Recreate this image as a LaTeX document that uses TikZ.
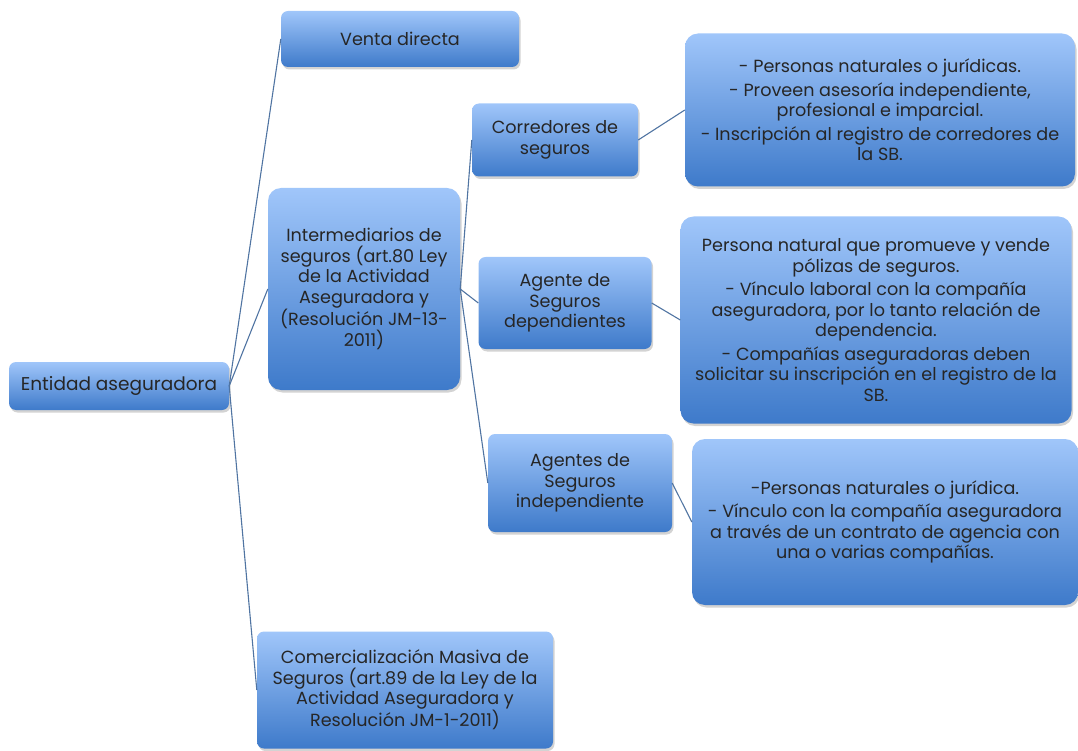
\documentclass[tikz,border=0pt]{standalone}
\usepackage{fontspec}
\setmainfont{Poppins}
\usetikzlibrary{positioning,shadows}
\definecolor{cajaclara}{RGB}{160,198,250}
\definecolor{cajaoscura}{RGB}{62,122,202}
\definecolor{linea}{RGB}{80,116,162}

\begin{document}
\begin{tikzpicture}[x=1pt,y=-1pt,
  caja/.style={rectangle,rounded corners=7pt,top color=cajaclara,bottom color=cajaoscura,
    drop shadow={shadow xshift=1.5pt,shadow yshift=-2.5pt,opacity=0.35},
    align=center,inner sep=2pt,font=\fontsize{17.6}{20.5}\selectfont,text=black!85},
  grande/.style={caja,rounded corners=13pt},
  enlace/.style={draw=linea,line width=1.1pt}]
  \useasboundingbox (0,0) rectangle (1078,751);

  % nivel 1
  \node[caja,minimum width=220pt,minimum height=48pt,font=\fontsize{18.5}{21}\selectfont] (entidad) at (119,386) {Entidad aseguradora};

  % nivel 2
  \node[caja,minimum width=238pt,minimum height=56pt] (venta) at (400,39) {Venta directa};
  \node[grande,minimum width=192pt,minimum height=202pt] (interm) at (364,289)
    {Intermediarios de\\seguros (art.80 Ley\\de la Actividad\\Aseguradora y\\(Resolución JM-13-\\2011)};
  \node[caja,minimum width=296pt,minimum height=117pt] (masiva) at (405,690)
    {Comercialización Masiva de\\Seguros (art.89 de la Ley de la\\Actividad Aseguradora y\\Resolución JM-1-2011)};

  % nivel 3
  \node[caja,minimum width=166pt,minimum height=73pt] (corredores) at (555,140) {Corredores de\\seguros};
  \node[caja,minimum width=173pt,minimum height=92pt] (dependientes) at (565,303) {Agente de\\Seguros\\dependientes};
  \node[caja,minimum width=184pt,minimum height=98pt] (independiente) at (580,483) {Agentes de\\Seguros\\independiente};

  % detalles
  \node[grande,minimum width=390pt,minimum height=153pt] (detcorr) at (880,110)
    {- Personas naturales o jurídicas.\\[3pt]- Proveen asesoría independiente,\\profesional e imparcial.\\[3pt]- Inscripción al registro de corredores de\\la SB.};
  \node[grande,minimum width=391pt,minimum height=207pt] (detdep) at (876,320)
    {Persona natural que promueve y vende\\pólizas de seguros.\\[3pt]- Vínculo laboral con la compañía\\aseguradora, por lo tanto relación de\\dependencia.\\[3pt]- Compañías aseguradoras deben\\solicitar su inscripción en el registro de la\\SB.};
  \node[grande,minimum width=386pt,minimum height=166pt] (detind) at (885,522)
    {-Personas naturales o jurídica.\\[3pt]- Vínculo con la compañía aseguradora\\a través de un contrato de agencia con\\una o varias compañías.};

  % conectores
  \foreach \hijo in {venta,interm,masiva}
    \draw[enlace] (entidad.east) -- (\hijo.west);
  \foreach \hijo in {corredores,dependientes,independiente}
    \draw[enlace] (interm.east) -- (\hijo.west);
  \draw[enlace] (corredores.east) -- (detcorr.west);
  \draw[enlace] (dependientes.east) -- (detdep.west);
  \draw[enlace] (independiente.east) -- (detind.west);
\end{tikzpicture}
\end{document}
